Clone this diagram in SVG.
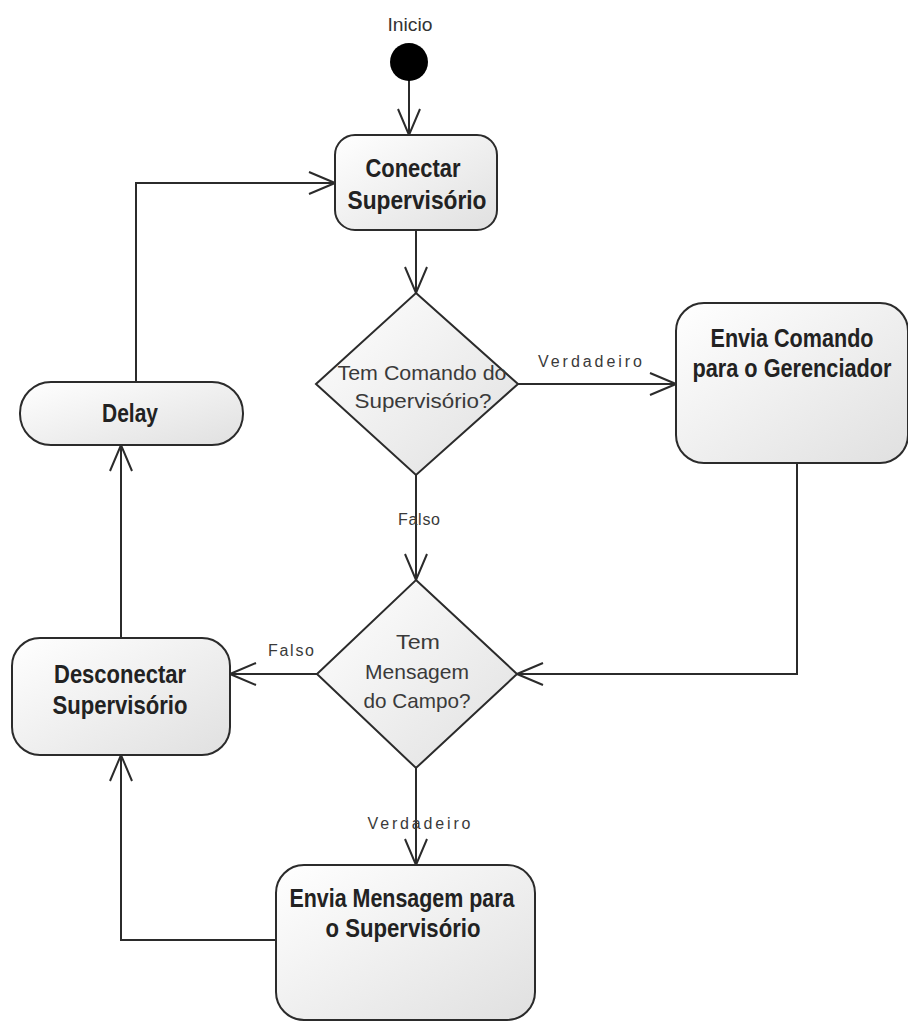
<svg xmlns="http://www.w3.org/2000/svg" width="908" height="1024" viewBox="0 0 908 1024">
  <style>
    .node { stroke: #2b2b2b; stroke-width: 2; fill: url(#nodeFill); }
    .title { font-family: "Liberation Sans", Arial, sans-serif; font-weight: bold; font-size: 26px; fill: #222; text-anchor: middle; }
    .cond { font-family: "Liberation Sans", Arial, sans-serif; font-size: 21px; fill: #3a3a3a; text-anchor: middle; }
    .guard { font-family: "Liberation Sans", Arial, sans-serif; font-size: 16px; fill: #3a3a3a; text-anchor: middle; }
    .edge { fill: none; stroke: #2b2b2b; stroke-width: 2; marker-end: url(#openArrow); }
  </style>
  <defs>
    <linearGradient id="nodeFill" x1="0" y1="0" x2="1" y2="1">
      <stop offset="0" stop-color="#ffffff"/>
      <stop offset="1" stop-color="#e0e0e0"/>
    </linearGradient>
    <!-- open "V" arrowhead used by every flow -->
    <marker id="openArrow" viewBox="0 0 28 24" refX="27" refY="12" markerWidth="28" markerHeight="24" markerUnits="userSpaceOnUse" orient="auto">
      <path d="M1,1 L27,12 L1,23" fill="none" stroke="#2b2b2b" stroke-width="2"/>
    </marker>
  </defs>
  <rect width="908" height="1024" fill="#ffffff"/>

  <!-- flows between activities -->
  <g id="connectors">
    <path class="edge" d="M409,80 L409,135"/>
    <path class="edge" d="M416,230 L416,293"/>
    <path class="edge" d="M518,384 L676,384"/>
    <path class="edge" d="M416,475 L416,580"/>
    <path class="edge" d="M797,463 L797,674 L517,674"/>
    <path class="edge" d="M317,674 L230,674"/>
    <path class="edge" d="M121,638 L121,445"/>
    <path class="edge" d="M136,382 L136,183 L335,183"/>
    <path class="edge" d="M416,768 L416,865"/>
    <path class="edge" d="M276,940 L121,940 L121,755"/>
    <text class="guard" x="590" y="367" textLength="104" lengthAdjust="spacing">Verdadeiro</text>
    <text class="guard" x="419" y="525" textLength="42" lengthAdjust="spacing">Falso</text>
    <text class="guard" x="291" y="656" textLength="46" lengthAdjust="spacing">Falso</text>
    <text class="guard" x="419" y="829" textLength="103" lengthAdjust="spacing">Verdadeiro</text>
  </g>

  <!-- initial node -->
  <g id="inicio">
    <text x="410" y="31" font-family="'Liberation Sans', Arial, sans-serif" font-size="19" fill="#333" text-anchor="middle" textLength="45" lengthAdjust="spacingAndGlyphs">Inicio</text>
    <circle cx="409" cy="62" r="19" fill="#000"/>
  </g>

  <g id="conectar">
    <rect class="node" x="335" y="135" width="162" height="95" rx="20"/>
    <text class="title" x="413" y="177" textLength="95" lengthAdjust="spacingAndGlyphs">Conectar</text>
    <text class="title" x="417" y="209" textLength="139" lengthAdjust="spacingAndGlyphs">Supervisório</text>
  </g>

  <g id="tem-comando">
    <polygon class="node" points="416,293 518,384 416,475 316,384"/>
    <text class="cond" x="422" y="380" textLength="169" lengthAdjust="spacingAndGlyphs">Tem Comando do</text>
    <text class="cond" x="423" y="408" textLength="137" lengthAdjust="spacingAndGlyphs">Supervisório?</text>
  </g>

  <g id="envia-comando">
    <rect class="node" x="676" y="303" width="232" height="160" rx="28"/>
    <text class="title" x="792" y="347" textLength="163" lengthAdjust="spacingAndGlyphs">Envia Comando</text>
    <text class="title" x="792" y="377" textLength="199" lengthAdjust="spacingAndGlyphs">para o Gerenciador</text>
  </g>

  <g id="delay">
    <rect class="node" x="20" y="382" width="223" height="63" rx="31"/>
    <text class="title" x="130" y="422" textLength="56" lengthAdjust="spacingAndGlyphs">Delay</text>
  </g>

  <g id="tem-mensagem">
    <polygon class="node" points="416,580 517,674 416,768 317,674"/>
    <text class="cond" x="418" y="649" textLength="44" lengthAdjust="spacingAndGlyphs">Tem</text>
    <text class="cond" x="417" y="679" textLength="104" lengthAdjust="spacingAndGlyphs">Mensagem</text>
    <text class="cond" x="417" y="708" textLength="107" lengthAdjust="spacingAndGlyphs">do Campo?</text>
  </g>

  <g id="desconectar">
    <rect class="node" x="12" y="638" width="218" height="117" rx="28"/>
    <text class="title" x="120" y="683" textLength="132" lengthAdjust="spacingAndGlyphs">Desconectar</text>
    <text class="title" x="120" y="714" textLength="135" lengthAdjust="spacingAndGlyphs">Supervisório</text>
  </g>

  <g id="envia-mensagem">
    <rect class="node" x="276" y="865" width="259" height="155" rx="28"/>
    <text class="title" x="402" y="907" textLength="225" lengthAdjust="spacingAndGlyphs">Envia Mensagem para</text>
    <text class="title" x="403" y="937" textLength="155" lengthAdjust="spacingAndGlyphs">o Supervisório</text>
  </g>
</svg>
